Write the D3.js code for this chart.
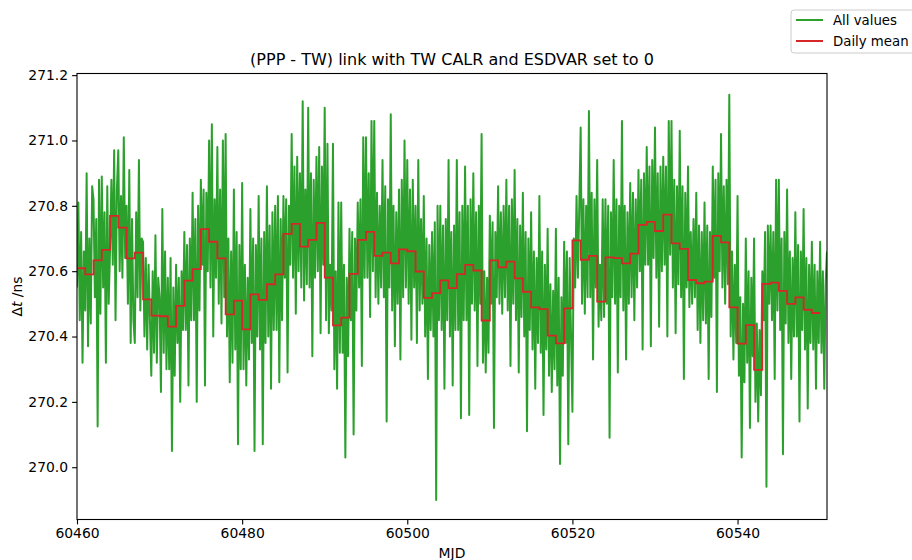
<!DOCTYPE html>
<html>
<head>
<meta charset="utf-8">
<script src="https://cdn.jsdelivr.net/npm/d3@7"></script>
<style>
  html, body { margin: 0; padding: 0; background: #fff; }
  svg { display: block; }
  text { font-family: "DejaVu Sans", sans-serif; fill: #000; }
</style>
</head>
<body>
<svg id="chart" width="912" height="560"></svg>
<script>
// ---------------- data ----------------
const titleText = "(PPP - TW) link with TW CALR and ESDVAR set to 0";
const xLabelText = "MJD";
const legendLabels = ["All values", "Daily mean"];
const xTicks = [60460, 60480, 60500, 60520, 60540];
const yTicks = [270.0, 270.2, 270.4, 270.6, 270.8, 271.0, 271.2];

// first MJD of the record and sampling interval of the "all values" series (days)
const startMJD = 60460;
const sampleStep = 1 / 6;

// all values (ns), sampled every sampleStep days from startMJD
const allValues = [
  270.55, 270.81, 270.45, 270.72, 270.32, 270.66,
  270.48, 270.90, 270.37, 270.70, 270.44, 270.86,
  270.82, 270.52, 270.76, 270.125, 270.88, 270.47,
  270.89, 270.55, 270.78, 270.32, 270.86, 270.50,
  270.66, 270.88, 270.62, 270.97, 270.45, 270.85,
  270.97, 270.60, 270.83, 270.58, 271.01, 270.64,
  270.80, 270.50, 270.91, 270.38, 270.76, 270.45,
  270.38, 270.78, 270.52, 270.94, 270.48, 270.70,
  270.69, 270.40, 270.64, 270.36, 270.62, 270.45,
  270.28, 270.60, 270.35, 270.71, 270.32, 270.58,
  270.52, 270.23, 270.79, 270.35, 270.66, 270.30,
  270.58, 270.30, 270.64, 270.05, 270.55, 270.28,
  270.62, 270.38, 270.58, 270.20, 270.60, 270.42,
  270.72, 270.42, 270.68, 270.25, 270.70, 270.45,
  270.84, 270.45, 270.76, 270.20, 270.80, 270.48,
  270.88, 270.62, 270.85, 270.25, 270.84, 270.60,
  271.00, 270.55, 271.05, 270.40, 270.82, 270.58,
  270.98, 270.50, 270.85, 270.44, 271.00, 270.52,
  271.02, 270.40, 270.70, 270.26, 270.66, 270.32,
  270.85, 270.36, 270.72, 270.07, 270.68, 270.30,
  270.87, 270.30, 270.62, 270.25, 270.58, 270.33,
  270.79, 270.38, 270.70, 270.05, 270.68, 270.40,
  270.83, 270.36, 270.70, 270.07, 270.72, 270.38,
  270.86, 270.40, 270.74, 270.24, 270.78, 270.42,
  270.80, 270.42, 270.83, 270.26, 270.76, 270.45,
  270.83, 270.58, 270.82, 270.29, 270.80, 270.62,
  271.02, 270.58, 270.92, 270.47, 270.95, 270.60,
  270.90, 270.55, 271.12, 270.51, 270.85, 270.56,
  271.10, 270.55, 270.90, 270.34, 270.88, 270.58,
  270.95, 270.60, 270.98, 270.41, 270.92, 270.62,
  271.10, 270.45, 270.99, 270.41, 270.62, 270.48,
  270.99, 270.30, 270.60, 270.24, 270.81, 270.35,
  270.81, 270.35, 270.62, 270.03, 270.58, 270.34,
  270.73, 270.45, 270.72, 270.10, 270.70, 270.48,
  270.81, 270.55, 270.82, 270.31, 271.01, 270.58,
  271.01, 270.58, 270.90, 270.46, 271.06, 270.60,
  271.06, 270.52, 270.84, 270.50, 270.80, 270.55,
  270.94, 270.52, 270.86, 270.14, 270.82, 270.55,
  271.08, 270.48, 270.80, 270.37, 270.78, 270.50,
  270.85, 270.33, 270.88, 270.52, 271.00, 270.55,
  270.94, 270.50, 270.85, 270.39, 270.88, 270.55,
  270.80, 270.38, 270.94, 270.48, 270.76, 270.50,
  270.83, 270.40, 270.70, 270.27, 270.68, 270.42,
  270.72, 270.40, 270.75, 269.90, 270.80, 270.45,
  270.80, 270.42, 270.74, 270.24, 270.76, 270.45,
  270.94, 270.40, 270.72, 270.25, 270.74, 270.42,
  270.94, 270.42, 270.78, 270.15, 270.80, 270.45,
  270.92, 270.45, 270.80, 270.16, 270.82, 270.50,
  270.90, 270.48, 270.78, 270.31, 270.80, 270.50,
  271.02, 270.32, 270.60, 270.29, 270.58, 270.35,
  270.77, 270.50, 270.75, 270.12, 270.72, 270.52,
  270.86, 270.50, 270.78, 270.47, 270.80, 270.52,
  270.88, 270.48, 270.80, 270.31, 270.82, 270.50,
  270.91, 270.45, 270.76, 270.29, 270.74, 270.46,
  270.84, 270.40, 270.72, 270.11, 270.70, 270.42,
  270.78, 270.36, 270.66, 270.24, 270.64, 270.38,
  270.83, 270.35, 270.66, 270.16, 270.62, 270.36,
  270.73, 270.28, 270.56, 270.23, 270.54, 270.30,
  270.73, 270.25, 270.58, 270.01, 270.52, 270.28,
  270.69, 270.38, 270.66, 270.07, 270.64, 270.40,
  270.17, 270.70, 270.55, 270.83, 270.58, 270.80,
  271.04, 270.50, 270.82, 270.47, 270.80, 270.52,
  271.09, 270.52, 270.84, 270.33, 270.82, 270.55,
  270.94, 270.43, 270.62, 270.45, 270.82, 270.46,
  270.82, 270.50, 270.80, 270.09, 270.78, 270.52,
  270.94, 270.50, 270.82, 270.29, 270.80, 270.52,
  271.06, 270.48, 270.80, 270.33, 270.78, 270.50,
  270.87, 270.52, 270.84, 270.45, 270.82, 270.55,
  270.91, 270.60, 270.88, 270.36, 270.90, 270.62,
  270.98, 270.62, 270.92, 270.37, 270.94, 270.64,
  271.04, 270.58, 270.90, 270.43, 270.92, 270.60,
  270.95, 270.62, 270.92, 270.40, 271.06, 270.65,
  271.06, 270.55, 270.88, 270.41, 270.86, 270.56,
  271.03, 270.52, 270.86, 270.27, 270.84, 270.55,
  270.92, 270.49, 270.72, 270.50, 270.76, 270.52,
  270.84, 270.42, 270.74, 270.38, 270.72, 270.45,
  270.81, 270.44, 270.74, 270.27, 270.72, 270.46,
  270.92, 270.58, 270.88, 270.23, 270.90, 270.60,
  271.02, 270.55, 270.86, 270.50, 270.88, 270.56,
  271.14, 270.40, 270.66, 270.33, 270.62, 270.38,
  270.83, 270.28, 270.52, 270.03, 270.50, 270.26,
  270.70, 270.32, 270.60, 270.12, 270.58, 270.34,
  270.70, 270.20, 270.44, 270.14, 270.42, 270.22,
  270.60, 270.45, 270.72, 269.94, 270.74, 270.50,
  270.74, 270.45, 270.72, 270.27, 270.88, 270.48,
  270.88, 270.42, 270.70, 270.04, 270.72, 270.44,
  270.85, 270.38, 270.66, 270.27, 270.64, 270.40,
  270.78, 270.40, 270.68, 270.14, 270.66, 270.42,
  270.79, 270.36, 270.64, 270.18, 270.62, 270.38,
  270.69, 270.36, 270.62, 270.24, 270.60, 270.38,
  270.69, 270.35, 270.60, 270.24, 270.56, 270.66
];

// daily mean (ns), one value per MJD starting at startMJD
const dailyMean = [
  270.609, 270.590, 270.633, 270.665, 270.769, 270.733, 270.639, 270.657, 270.514, 270.464,
  270.462, 270.430, 270.494, 270.571, 270.606, 270.729, 270.690, 270.639, 270.468, 270.510,
  270.422, 270.529, 270.512, 270.560, 270.590, 270.714, 270.745, 270.675, 270.696, 270.748,
  270.580, 270.434, 270.458, 270.592, 270.696, 270.720, 270.647, 270.657, 270.624, 270.667,
  270.661, 270.599, 270.518, 270.533, 270.572, 270.548, 270.591, 270.619, 270.602, 270.449,
  270.633, 270.612, 270.629, 270.578, 270.537, 270.489, 270.484, 270.403, 270.379, 270.486,
  270.694, 270.635, 270.647, 270.507, 270.642, 270.640, 270.624, 270.654, 270.742, 270.751,
  270.723, 270.773, 270.685, 270.668, 270.573, 270.563, 270.568, 270.708, 270.688, 270.489,
  270.378, 270.435, 270.298, 270.561, 270.565, 270.540, 270.500, 270.520, 270.482, 270.472
];

// ---------------- layout ----------------
const svg = d3.select("#chart");
const plot = { left: 77, right: 827, top: 73.5, bottom: 519.5 };
const green = "#2ca02c", red = "#d62728";

const allPts = allValues.map((v, i) => ({ t: startMJD + i * sampleStep, v }));
const meanPts = dailyMean.map((v, i) => ({ t: startMJD + i, v }));
meanPts.push({ t: startMJD + dailyMean.length, v: dailyMean[dailyMean.length - 1] });

const x = d3.scaleLinear()
  .domain([startMJD, allPts[allPts.length - 1].t])
  .range([plot.left, plot.right]);
const y = d3.scaleLinear()
  .domain([269.84, 271.205])
  .range([plot.bottom, plot.top]);

svg.append("defs").append("clipPath").attr("id", "clip")
  .append("rect")
  .attr("x", plot.left).attr("y", plot.top)
  .attr("width", plot.right - plot.left).attr("height", plot.bottom - plot.top);

const g = svg.append("g").attr("clip-path", "url(#clip)");

g.append("path")
  .datum(allPts)
  .attr("fill", "none")
  .attr("stroke", green)
  .attr("stroke-width", 2)
  .attr("stroke-linejoin", "round")
  .attr("d", d3.line().x(d => x(d.t)).y(d => y(d.v)));

g.append("path")
  .datum(meanPts)
  .attr("fill", "none")
  .attr("stroke", red)
  .attr("stroke-width", 1.8)
  .attr("d", d3.line().curve(d3.curveStepAfter).x(d => x(d.t)).y(d => y(d.v)));

// axes
const xAxis = svg.append("g")
  .attr("transform", `translate(0,${plot.bottom})`)
  .call(d3.axisBottom(x).tickValues(xTicks).tickFormat(d3.format("d")).tickSize(4.9).tickPadding(4));
const yAxis = svg.append("g")
  .attr("transform", `translate(${plot.left},0)`)
  .call(d3.axisLeft(y).tickValues(yTicks).tickFormat(d3.format(".1f")).tickSize(4.9).tickPadding(4));

[xAxis, yAxis].forEach(a => {
  a.select(".domain").remove();
  a.selectAll("line").attr("stroke", "#000").attr("stroke-width", 1.1);
  a.selectAll("text").attr("font-family", "DejaVu Sans").attr("font-size", 13.9).attr("fill", "#000");
});

// frame
svg.append("rect")
  .attr("x", plot.left).attr("y", plot.top)
  .attr("width", plot.right - plot.left).attr("height", plot.bottom - plot.top)
  .attr("fill", "none").attr("stroke", "#000").attr("stroke-width", 1.1);

// title and labels
svg.append("text")
  .attr("x", (plot.left + plot.right) / 2).attr("y", 65)
  .attr("text-anchor", "middle").attr("font-size", 16)
  .text(titleText);

svg.append("text")
  .attr("x", (plot.left + plot.right) / 2).attr("y", 558)
  .attr("text-anchor", "middle").attr("font-size", 13.9)
  .text(xLabelText);

const yl = svg.append("text")
  .attr("transform", `translate(22,${(plot.top + plot.bottom) / 2}) rotate(-90)`)
  .attr("text-anchor", "middle").attr("font-size", 13.9);
yl.append("tspan").text("Δ");
yl.append("tspan").attr("font-style", "italic").text("t");
yl.append("tspan").text(" /ns");

// legend
const leg = svg.append("g").attr("transform", "translate(791,10)");
leg.append("rect")
  .attr("x", 0).attr("y", 0).attr("width", 130).attr("height", 43)
  .attr("rx", 3).attr("fill", "#fff").attr("fill-opacity", 0.8)
  .attr("stroke", "#ccc").attr("stroke-width", 1);
[green, red].forEach((c, i) => {
  const yy = 10 + i * 21;
  leg.append("line").attr("x1", 5).attr("x2", 32).attr("y1", yy).attr("y2", yy)
    .attr("stroke", c).attr("stroke-width", 2);
  leg.append("text").attr("x", 42).attr("y", yy + 5).attr("font-size", 13.3).text(legendLabels[i]);
});
</script>
</body>
</html>
